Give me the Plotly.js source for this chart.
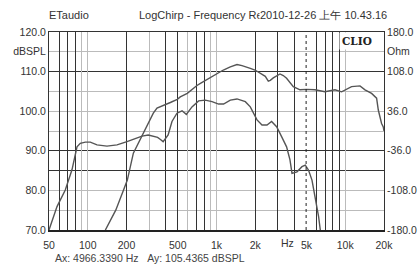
<!DOCTYPE html>
<html>
<head>
<meta charset="utf-8">
<script src="https://cdn.plot.ly/plotly-3.0.1.min.js"></script>
<style>html,body{margin:0;padding:0;background:#fff;}#chart{width:418px;height:266px;}</style>
</head>
<body>
<div id="chart"></div>
<script>
// ---- data ----
const splFreq = [137,165,189,203,226,255,292,323,345,365,386,438,496,523,593,626,705,750,844,895,1009,1130,1280,1443,1578,1665,1830,1991,2240,2393,2525,2617,2762,3113,3300,3502,3948,4451,5009,5820,6962,8323,9366,11200,13020,14237,16020,17520,18060,19150,19750,20000];
const splDb = [70,75,80,82.6,89.4,92.7,96.5,99.5,100.8,101.1,101.5,102.2,103.0,103.6,104.5,105.2,106.5,107.0,108.0,108.4,109.6,110.4,111.2,111.8,111.5,111.3,110.8,110.4,109.3,108.8,107.6,107.8,108.4,109.4,109.0,108.3,106.2,105.4,105.5,105.4,104.9,105.4,104.9,106.2,106.4,105.4,104.5,103.3,100.3,96.9,96.0,95.0];

const zFreq = [50,57.7,66.9,75.4,80,82.5,87.5,95.7,104.7,118,141,168.7,201.8,241.3,264,295,349,365,385,421,437,451,493,540,583,645,726,818,923,1038,1135,1280,1443,1674,1830,1941,2064,2256,2467,2679,2930,3204,3502,3722,3858,4219,4613,4894,5190,5516,5853,6208,6400];
const zOhm = [-180,-137.5,-107.3,-70.6,-43.2,-28.8,-22.3,-20.2,-20.2,-25.2,-27.4,-25.2,-19.4,-12.2,-9.4,-7.2,-11.5,-15.1,-19.4,-7.2,7.2,17.3,32.4,36.7,30.2,43.9,54.7,56.2,53.3,49,49,56.2,58.3,53.3,43.9,32.4,20.2,10.8,10.8,17.3,7.9,-10.1,-28.8,-52.6,-77,-74.2,-64.8,-61.9,-71.3,-89.3,-119.5,-155.5,-180];

const xTickVals = [50,100,200,500,1000,2000,5000,10000,20000];
const xTickText = ['50','100','200','500','1k','2k','5k','10k','20k'];
const xGridDark = [60,70,80,200,400,500,700,800,2000,3000,4000,6000,7000,8000,9000];
const xGridLight = [90,100,300,600,900,1000,10000];
const yLeftVals = [70,80,90,100,110,115,120];
const yLeftText = ['70.0','80.0','90.0','100.0','110.0','dBSPL','120.0'];
const yGridDark = [85,90,110];
const yRightVals = [-180,-108,-36,36,108,144,180];
const yRightText = ['-180.0','-108.0','-36.0','36.0','108.0','Ohm','180.0'];
const yGridLightOhm = [-144,-108,0,36,72,144];
const cursorHz = 4966.339;
const titleLeft = 'ETaudio';
const titleMid = 'LogChirp - Frequency Re';
const titleDate = '2010-12-26 上午 10.43.16';
const cursorText = 'Ax: 4966.3390 Hz &nbsp;&nbsp;Ay: 105.4365 dBSPL';

const F = 'Liberation Sans, Arial, sans-serif';
const xRange = [Math.log10(50), Math.log10(20000)];

const traces = [
  {x: splFreq, y: splDb, xaxis: 'x', yaxis: 'y', mode: 'lines', line: {color: '#555', width: 1.4}, hoverinfo: 'skip'},
  {x: zFreq, y: zOhm, xaxis: 'x2', yaxis: 'y2', mode: 'lines', line: {color: '#555', width: 1.4}, hoverinfo: 'skip'}
];

const layout = {
  width: 418, height: 266,
  margin: {l: 48.7, r: 34.2, t: 32, b: 36},
  paper_bgcolor: '#fff', plot_bgcolor: '#fff',
  showlegend: false,
  font: {family: F, size: 10.5, color: '#333'},
  xaxis: {type: 'log', range: xRange, tickmode: 'array', tickvals: xTickVals, ticktext: xTickText,
          showgrid: false, zeroline: false, ticks: '', showline: true, linecolor: '#222', linewidth: 2,
          tickfont: {family: F, size: 10.5, color: '#333'}, ticklabelstandoff: 4},
  xaxis2: {type: 'log', range: xRange, overlaying: 'x', side: 'top', tickmode: 'array', tickvals: xGridDark,
           showticklabels: false, ticks: '', showgrid: true, gridcolor: '#333', gridwidth: 1,
           showline: true, linecolor: '#333', linewidth: 1, zeroline: false,
           minor: {tickmode: 'array', tickvals: xGridLight, showgrid: true, gridcolor: '#bbb', gridwidth: 1, ticks: ''}},
  yaxis: {range: [70, 120], tickmode: 'array', tickvals: yLeftVals, ticktext: yLeftText,
          showgrid: false, zeroline: false, ticks: '', showline: true, linecolor: '#333', linewidth: 1,
          tickfont: {family: F, size: 10.5, color: '#333'},
          minor: {tickmode: 'array', tickvals: yGridDark, showgrid: true, gridcolor: '#333', gridwidth: 1, ticks: ''}},
  yaxis2: {range: [-180, 180], overlaying: 'y', side: 'right', tickmode: 'array', tickvals: yRightVals, ticktext: yRightText,
           showgrid: false, zeroline: false, ticks: '', showline: true, linecolor: '#333', linewidth: 1,
           tickfont: {family: F, size: 10.5, color: '#333'},
           minor: {tickmode: 'array', tickvals: yGridLightOhm, showgrid: true, gridcolor: '#bbb', gridwidth: 1, ticks: ''}},
  shapes: [
    {type: 'line', xref: 'x', yref: 'paper', x0: cursorHz, x1: cursorHz, y0: 0, y1: 1,
     line: {color: '#222', width: 1, dash: 'dot'}}
  ],
  annotations: [
    {text: titleLeft, xref: 'paper', yref: 'paper', x: -0.005, y: 1.086, xanchor: 'left', yanchor: 'middle', showarrow: false,
     font: {family: F, size: 11, color: '#333'}},
    {text: titleMid, xref: 'paper', yref: 'paper', x: 0.2636, y: 1.086, xanchor: 'left', yanchor: 'middle', showarrow: false,
     font: {family: F, size: 11, color: '#333'}},
    {text: titleDate, xref: 'paper', yref: 'paper', x: 0.626, y: 1.086, xanchor: 'left', yanchor: 'middle', showarrow: false,
     bgcolor: '#fff', borderpad: 0, font: {family: F, size: 11, color: '#333'}},
    {text: '<b>CLIO</b>', xref: 'paper', yref: 'paper', x: 0.919, y: 0.9545, xanchor: 'center', yanchor: 'middle', showarrow: false,
     bgcolor: '#fff', borderpad: 2, font: {family: 'DejaVu Serif, serif', size: 10.5, color: '#222'}},
    {text: 'Hz', xref: 'paper', yref: 'paper', x: 0.711, y: -0.0657, xanchor: 'center', yanchor: 'middle', showarrow: false,
     font: {family: F, size: 10.5, color: '#333'}},
    {text: cursorText, xref: 'paper', yref: 'paper', x: 0.0128, y: -0.1414, xanchor: 'left', yanchor: 'middle', showarrow: false,
     font: {family: F, size: 10.5, color: '#444'}}
  ]
};

Plotly.newPlot('chart', traces, layout, {staticPlot: true, displayModeBar: false});
</script>
</body>
</html>
